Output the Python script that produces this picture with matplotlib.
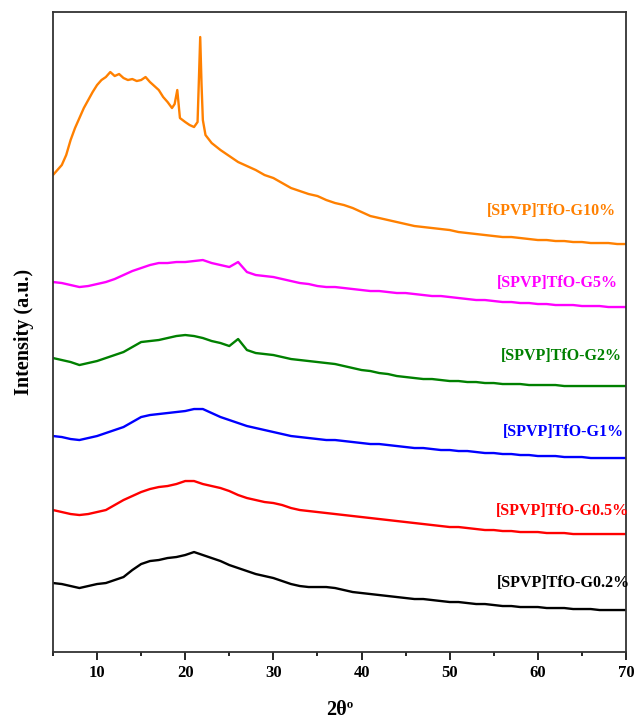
import numpy as np
import matplotlib
matplotlib.use("Agg")
import matplotlib.pyplot as plt
from matplotlib.ticker import MultipleLocator

plt.rcParams['font.family'] = ['Liberation Serif', 'DejaVu Serif']
plt.rcParams['font.weight'] = 'bold'

# 2theta grid for the stacked patterns (degrees)
two_theta = list(range(5, 71))

# G10% has two sharp reflections, so it gets its own finer x values
two_theta_g10 = [5, 5.5, 6, 6.5, 7, 7.5, 8, 8.5, 9, 9.5, 10, 10.5, 11, 11.5, 12, 12.5,
                 13, 13.5, 14, 14.5, 15, 15.5, 16, 16.5, 17, 17.5, 18, 18.5, 18.8, 19.1,
                 19.4, 20, 20.5, 21, 21.4, 21.55, 21.7, 21.85, 22.0, 22.3, 23, 24, 25, 26,
                 27, 28, 29, 30, 31, 32, 33, 34, 35, 36, 37, 38, 39, 40, 41, 42, 43, 44,
                 45, 46, 47, 48, 49, 50, 51, 52, 53, 54, 55, 56, 57, 58, 59, 60, 61, 62,
                 63, 64, 65, 66, 67, 68, 69, 70]
g10 = [477, 482, 487, 497, 512, 524, 534, 544, 552, 560, 567, 572, 575, 580, 576, 578,
       574, 572, 573, 571, 572, 575, 570, 566, 562, 555, 550, 544, 548, 562,
       534, 530, 527, 525, 530, 572, 615, 568, 532, 517, 509, 502, 496, 490,
       486, 482, 477, 474, 469, 464, 461, 458, 456, 452, 449, 447, 444, 440, 436, 434, 432, 430,
       428, 426, 425, 424, 423, 422, 420, 419, 418, 417, 416, 415, 415, 414, 413, 412, 412, 411,
       411, 410, 410, 409, 409, 409, 408, 408]

g5 = [370, 369, 367, 365, 366, 368, 370, 373, 377, 381, 384, 387, 389, 389, 390, 390,
      391, 392, 389, 387, 385, 390, 380, 377, 376, 375, 373, 371, 369, 368, 366, 365,
      365, 364, 363, 362, 361, 361, 360, 359, 359, 358, 357, 356, 356, 355, 354, 353,
      352, 352, 351, 350, 350, 349, 349, 348, 348, 347, 347, 347, 346, 346, 346, 345,
      345, 345]
g2 = [294, 292, 290, 287, 289, 291, 294, 297, 300, 305, 310, 311, 312, 314, 316, 317,
      316, 314, 311, 309, 306, 313, 302, 299, 298, 297, 295, 293, 292, 291, 290, 289,
      288, 286, 284, 282, 281, 279, 278, 276, 275, 274, 273, 273, 272, 271, 271, 270,
      270, 269, 269, 268, 268, 268, 267, 267, 267, 267, 266, 266, 266, 266, 266, 266,
      266, 266]
g1 = [216, 215, 213, 212, 214, 216, 219, 222, 225, 230, 235, 237, 238, 239, 240, 241,
      243, 243, 239, 235, 232, 229, 226, 224, 222, 220, 218, 216, 215, 214, 213, 212,
      212, 211, 210, 209, 208, 208, 207, 206, 205, 204, 204, 203, 202, 202, 201, 201,
      200, 199, 199, 198, 198, 197, 197, 196, 196, 196, 195, 195, 195, 194, 194, 194,
      194, 194]
g05 = [142, 140, 138, 137, 138, 140, 142, 147, 152, 156, 160, 163, 165, 166, 168, 171,
       171, 168, 166, 164, 161, 157, 154, 152, 150, 149, 147, 144, 142, 141, 140, 139,
       138, 137, 136, 135, 134, 133, 132, 131, 130, 129, 128, 127, 126, 125, 125, 124,
       123, 122, 122, 121, 121, 120, 120, 120, 119, 119, 119, 118, 118, 118, 118, 118,
       118, 118]
g02 = [69, 68, 66, 64, 66, 68, 69, 72, 75, 82, 88, 91, 92, 94, 95, 97,
       100, 97, 94, 91, 87, 84, 81, 78, 76, 74, 71, 68, 66, 65, 65, 65,
       64, 62, 60, 59, 58, 57, 56, 55, 54, 53, 53, 52, 51, 50, 50, 49,
       48, 48, 47, 46, 46, 45, 45, 45, 44, 44, 44, 43, 43, 43, 42, 42,
       42, 42]

labels = ['[SPVP]TfO-G10%', '[SPVP]TfO-G5%', '[SPVP]TfO-G2%',
          '[SPVP]TfO-G1%', '[SPVP]TfO-G0.5%', '[SPVP]TfO-G0.2%']
colors = ['#FF8000', '#FF00FF', '#008000', '#0000FF', '#FF0000', '#000000']
label_x = [68.9, 69.1, 69.5, 69.8, 70.3, 70.5]
label_y = [441, 369, 296, 220, 141, 69]

fig = plt.figure(figsize=(6.36, 7.2), dpi=100)
ax = fig.add_axes([0.0833, 0.0944, 0.9010, 0.8889])

ax.plot(two_theta_g10, g10, color=colors[0], lw=1.7)
for y, c in zip([g5, g2, g1, g05, g02], colors[1:]):
    ax.plot(two_theta, y, color=c, lw=1.7)

for lab, c, tx, ty in zip(labels, colors, label_x, label_y):
    ax.text(tx, ty, lab, color=c, ha='right', va='center', fontsize=11.5, fontweight='bold')

ax.set_xlim(5, 70)
ax.set_ylim(0, 640)
ax.xaxis.set_major_locator(MultipleLocator(10))
ax.xaxis.set_minor_locator(MultipleLocator(5))
ax.tick_params(axis='x', which='major', direction='out', length=6, width=1.2, labelsize=12, pad=3)
ax.tick_params(axis='x', which='minor', direction='out', length=3, width=1.2)
ax.set_yticks([])
for s in ax.spines.values():
    s.set_linewidth(1.3)
    s.set_color('#333333')

ax.set_xlabel('2θº', fontsize=14.5, fontweight='bold', labelpad=14)
ax.set_ylabel('Intensity (a.u.)', fontsize=14.5, fontweight='bold', labelpad=14)

fig.savefig('out.png', dpi=100)
